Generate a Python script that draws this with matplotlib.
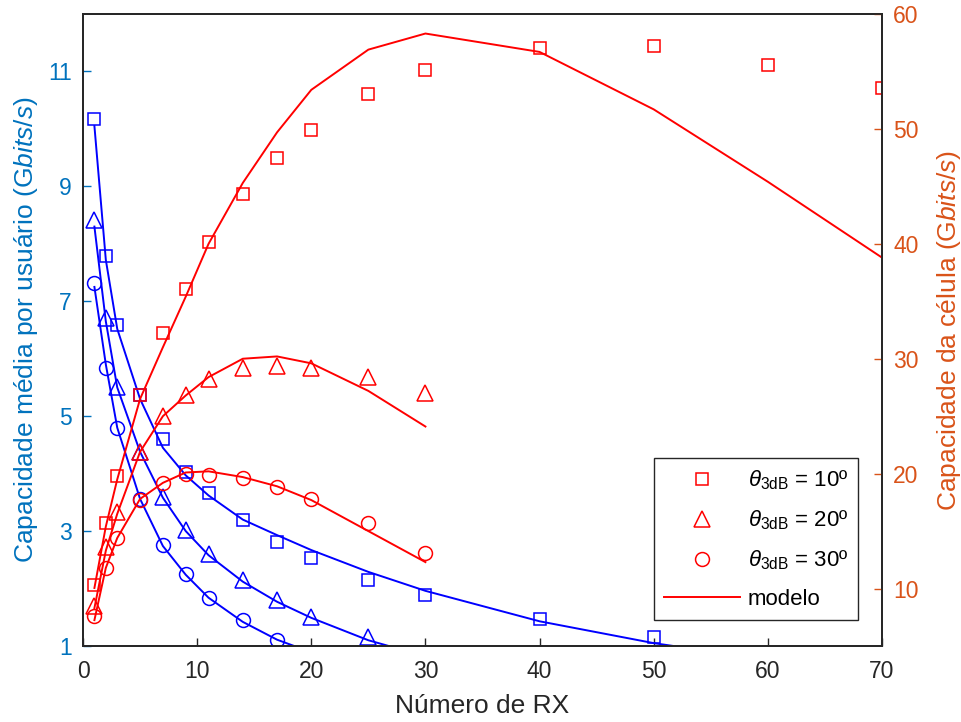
import numpy as np
import matplotlib
matplotlib.use('Agg')
import matplotlib.pyplot as plt
from matplotlib.lines import Line2D

plt.rcParams['font.family'] = ['Liberation Sans', 'DejaVu Sans']
plt.rcParams['mathtext.fontset'] = 'custom'
plt.rcParams['mathtext.rm'] = 'Liberation Sans'
plt.rcParams['mathtext.it'] = 'Liberation Sans:italic'
plt.rcParams['mathtext.bf'] = 'Liberation Sans:bold'

# simulacao (marcadores)
x10 = [1, 2, 3, 5, 7, 9, 11, 14, 17, 20, 25, 30, 40, 50, 60, 70]
usr10 = [10.18, 7.78, 6.59, 5.37, 4.61, 4.03, 3.67, 3.20, 2.81, 2.53, 2.15, 1.89, 1.47, 1.16]
cel10 = [10.35, 15.7, 19.8, 26.8, 32.2, 36.1, 40.2, 44.3, 47.5, 49.9, 53.0, 55.1, 57.0, 57.2, 55.6, 53.6]

x20 = [1, 2, 3, 5, 7, 9, 11, 14, 17, 20, 25, 30]
usr20 = [8.42, 6.71, 5.51, 4.38, 3.60, 3.02, 2.60, 2.15, 1.80, 1.50, 1.16]
cel20 = [8.5, 13.65, 16.7, 21.9, 25.0, 26.8, 28.2, 29.2, 29.4, 29.2, 28.4, 27.0]

x30 = [1, 2, 3, 5, 7, 9, 11, 14, 17, 20, 25, 30]
usr30 = [7.32, 5.83, 4.80, 3.56, 2.76, 2.25, 1.84, 1.45, 1.10]
cel30 = [7.57, 11.8, 14.4, 17.7, 19.2, 20.0, 19.9, 19.65, 18.8, 17.8, 15.7, 13.1]

# modelo (linhas)
m_usr10 = [10.05, 7.72, 6.52, 5.30, 4.45, 3.97, 3.62, 3.20, 2.93, 2.67, 2.29, 1.96, 1.43, 1.05, 0.76]
m_cel10 = [10.05, 15.4, 19.5, 26.5, 31.0, 35.4, 40.0, 45.3, 49.7, 53.4, 56.9, 58.3, 56.7, 51.7, 45.4, 38.8]
m_usr20 = [8.30, 6.65, 5.50, 4.38, 3.58, 3.00, 2.58, 2.12, 1.77, 1.49, 1.10, 0.82]
m_cel20 = [8.3, 13.3, 16.5, 21.9, 25.0, 26.8, 28.4, 30.0, 30.2, 29.6, 27.2, 24.1]
m_usr30 = [7.25, 5.90, 4.80, 3.56, 2.74, 2.24, 1.84, 1.42, 1.11, 0.89, 0.60]
m_cel30 = [7.25, 11.8, 14.4, 17.8, 19.2, 20.1, 20.2, 19.7, 18.9, 17.7, 15.0, 12.3]

c_left = '#0072BD'
c_right = '#D95319'
lw = 1.4
mew = 1.1
ms = {'s': 8.5, '^': 11, 'o': 10}

fig = plt.figure(figsize=(9.62, 7.22), dpi=100)
ax = fig.add_axes([83/962, 1-646/722, 799/962, 632/722])
ax2 = ax.twinx()

for xs, mu, mc, su, sc, mk in [(x10, m_usr10, m_cel10, usr10, cel10, 's'),
                               (x20, m_usr20, m_cel20, usr20, cel20, '^'),
                               (x30, m_usr30, m_cel30, usr30, cel30, 'o')]:
    ax.plot(xs[:len(mu)], mu, color='b', lw=lw)
    ax.plot(xs[:len(su)], su, color='b', ls='none', marker=mk, ms=ms[mk], mfc='none', mew=mew)
    ax2.plot(xs[:len(mc)], mc, color='r', lw=lw)
    ax2.plot(xs[:len(sc)], sc, color='r', ls='none', marker=mk, ms=ms[mk], mfc='none', mew=mew)

ax.set_xlim(0, 70)
ax.set_ylim(1, 12)
ax2.set_ylim(5, 60)
ax.set_xticks(range(0, 71, 10))
ax.set_yticks([1, 3, 5, 7, 9, 11])
ax2.set_yticks([10, 20, 30, 40, 50, 60])

for a in (ax, ax2):
    for s in a.spines.values():
        s.set_color('#262626')
        s.set_linewidth(1.3)
ax.tick_params(axis='x', direction='in', length=6, width=1, colors='#262626', labelsize=16.5, pad=10)
ax.tick_params(axis='y', direction='in', length=6, width=1, colors=c_left, labelsize=16.5, pad=8)
ax2.tick_params(axis='y', direction='in', length=6, width=1, colors=c_right, labelsize=16.5, pad=8)

ax.set_xlabel('Número de RX', fontsize=19, color='#262626', labelpad=8)
ax.set_ylabel('Capacidade média por usuário (G$\\mathit{bits/s}$)', fontsize=19, color=c_left, labelpad=6)
ax2.set_ylabel('Capacidade da célula (G$\\mathit{bits/s}$)', fontsize=19, color=c_right, labelpad=12)

handles = [Line2D([], [], color='r', ls='none', marker='s', ms=ms['s'], mfc='none', mew=mew),
           Line2D([], [], color='r', ls='none', marker='^', ms=ms['^'], mfc='none', mew=mew),
           Line2D([], [], color='r', ls='none', marker='o', ms=ms['o'], mfc='none', mew=mew),
           Line2D([], [], color='r', lw=lw)]
labels = ['$\\theta_{\\mathrm{3dB}}$ = 10º', '$\\theta_{\\mathrm{3dB}}$ = 20º',
          '$\\theta_{\\mathrm{3dB}}$ = 30º', 'modelo']
leg = ax2.legend(handles, labels, loc='lower right', bbox_to_anchor=(0.970, 0.041),
                 borderaxespad=0, fontsize=16, fancybox=False, framealpha=1,
                 edgecolor='#262626', handlelength=3.4, handletextpad=0.35,
                 labelspacing=0.75, borderpad=0.45)
leg.get_frame().set_linewidth(1.0)

fig.savefig('out.png', dpi=100)
